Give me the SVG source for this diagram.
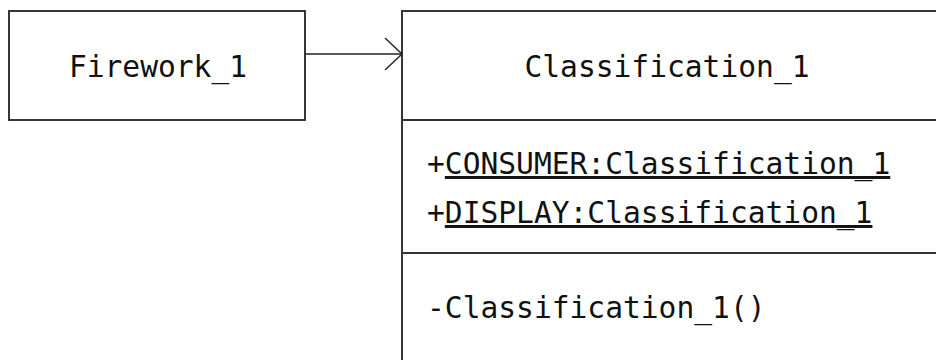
<svg xmlns="http://www.w3.org/2000/svg" width="936" height="360" viewBox="0 0 936 360">
<style>
.box{fill:#fff;stroke:#222;stroke-width:1.8}
.div{stroke:#333;stroke-width:1.8;fill:none}
.t{font-family:"DejaVu Sans Mono","Liberation Mono",monospace;font-size:29.6px;fill:#111}
.c{text-anchor:middle}
.edge{stroke:#222;stroke-width:1.4;fill:none}
</style>
<rect width="936" height="360" fill="#fff"/>
<g id="node-firework">
<rect class="box" x="9" y="11" width="296" height="109"/>
<text class="t c" x="158" y="77">Firework_1</text>
</g>
<g id="node-classification">
<rect class="box" x="402" y="11" width="560" height="380"/>
<line class="div" x1="402" y1="120" x2="936" y2="120"/>
<line class="div" x1="402" y1="253" x2="936" y2="253"/>
<text class="t c" x="667" y="77">Classification_1</text>
<text class="t" x="427" y="174">+<tspan text-decoration="underline">CONSUMER:Classification_1</tspan></text>
<text class="t" x="427" y="223">+<tspan text-decoration="underline">DISPLAY:Classification_1</tspan></text>
<text class="t" x="427" y="318">-Classification_1()</text>
</g>
<g id="connectors">
<line class="edge" x1="305" y1="54" x2="402" y2="54"/>
<polyline class="edge" points="385,38 402,54 385,70"/>
</g>
</svg>
